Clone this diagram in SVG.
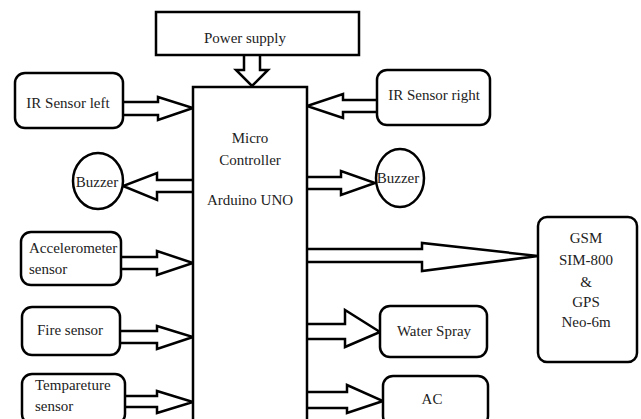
<svg xmlns="http://www.w3.org/2000/svg" width="641" height="419" viewBox="0 0 641 419">
<style>
.box{fill:#fff;stroke:#000;stroke-width:2.5}
.arr{fill:#fff;stroke:#000;stroke-width:2.5;stroke-linejoin:miter}
text{font-family:'Liberation Serif','DejaVu Serif','Times New Roman',serif;font-size:15px;fill:#222}
.c{text-anchor:middle}
</style>
<rect width="641" height="419" fill="#fff"/>
<g id="connectors">
<path class="arr" d="M244 55 V70 H236 L252 86 L268 70 H260 V55"/>
<path class="arr" d="M123 102 H158 V97 L193 108 L158 120 V115 H123"/>
<path class="arr" d="M377 100 H343 V94 L307 106 L343 118 V112 H377"/>
<path class="arr" d="M193 180 H157 V173 L123 186 L157 200 V192 H193"/>
<path class="arr" d="M307 177 H341 V171 L375 183 L341 195 V189 H307"/>
<path class="arr" d="M121 257 H157 V251 L193 263 L157 275 V269 H121"/>
<path class="arr" d="M120 331 H157 V326 L193 337 L157 349 V343 H120"/>
<path class="arr" d="M125 396 H157 V391 L193 402 L157 413 V407 H125"/>
<path class="arr" d="M307 249 H422 V243 L538 256 L422 271 V262 H307"/>
<path class="arr" d="M307 324 H345 V310 L380 332 L345 347 V339 H307"/>
<path class="arr" d="M307 392 H347 V385 L383 401 L347 413 V408 H307"/>
</g>
<g font-family="Liberation Serif, serif">
<g id="power">
<rect class="box" x="156" y="12" width="203" height="43"/>
<text class="c" x="245" y="43">Power supply</text>
</g>
<g id="micro">
<rect class="box" x="193" y="87" width="114" height="345"/>
<text class="c" x="250" y="143">Micro</text>
<text class="c" x="250" y="165">Controller</text>
<text class="c" x="250" y="205">Arduino UNO</text>
</g>
<g id="ir-left">
<rect class="box" x="15" y="73" width="108" height="55" rx="10"/>
<text class="c" x="68" y="108">IR Sensor left</text>
</g>
<g id="ir-right">
<rect class="box" x="377" y="70" width="113" height="55" rx="10"/>
<text class="c" x="434" y="100">IR Sensor right</text>
</g>
<g id="buzzer-left">
<ellipse class="box" cx="98" cy="181" rx="25" ry="28"/>
<text class="c" x="97" y="187">Buzzer</text>
</g>
<g id="buzzer-right">
<ellipse class="box" cx="400" cy="178" rx="24" ry="29"/>
<text class="c" x="398" y="183">Buzzer</text>
</g>
<g id="accelerometer">
<rect class="box" x="21" y="232" width="100" height="53" rx="10"/>
<text x="29" y="253">Accelerometer</text>
<text x="29" y="274">sensor</text>
</g>
<g id="fire">
<rect class="box" x="22" y="307" width="98" height="48" rx="10"/>
<text class="c" x="70" y="335">Fire sensor</text>
</g>
<g id="temperature">
<rect class="box" x="22" y="374" width="103" height="50" rx="10"/>
<text x="35" y="390">Tempareture</text>
<text x="35" y="411">sensor</text>
</g>
<g id="gsm">
<rect class="box" x="538" y="217" width="99" height="145" rx="9"/>
<text class="c" x="586" y="243">GSM</text>
<text class="c" x="586" y="265">SIM-800</text>
<text class="c" x="586" y="287">&amp;</text>
<text class="c" x="586" y="307">GPS</text>
<text class="c" x="586" y="327">Neo-6m</text>
</g>
<g id="water-spray">
<rect class="box" x="380" y="306" width="107" height="51" rx="10"/>
<text class="c" x="434" y="336">Water Spray</text>
</g>
<g id="ac">
<rect class="box" x="383" y="376" width="105" height="50" rx="10"/>
<text class="c" x="432" y="404">AC</text>
</g>
</g>
</svg>
